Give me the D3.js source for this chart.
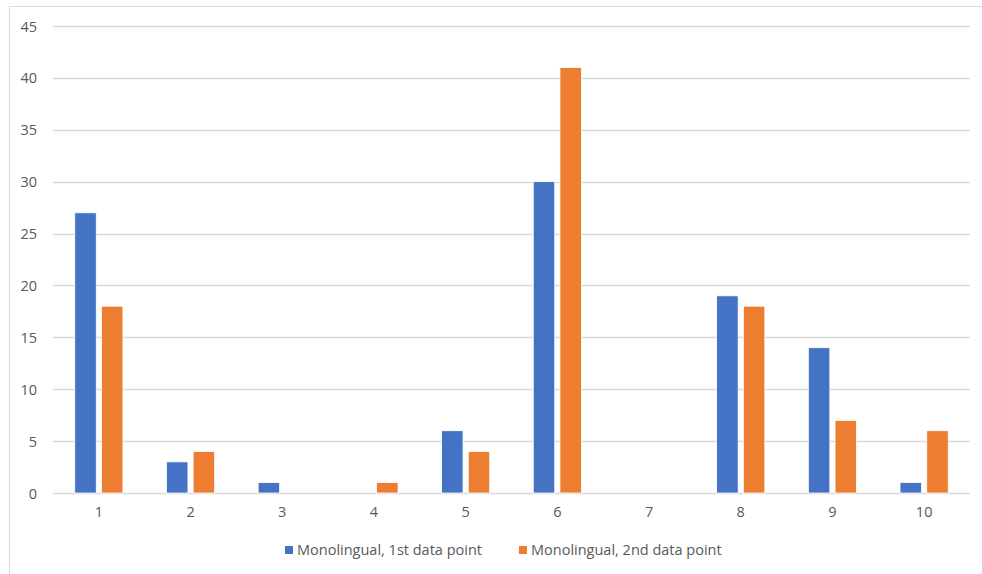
<!DOCTYPE html>
<html>
<head>
<meta charset="utf-8">
<script src="https://cdn.jsdelivr.net/npm/d3@7"></script>
<style>
  html, body { margin: 0; padding: 0; background: #fff; }
  svg { display: block; }
  text { font-family: "Open Sans", "Noto Sans", sans-serif; }
</style>
</head>
<body>
<svg id="chart" width="982" height="574"></svg>
<script>
const categories = ["1", "2", "3", "4", "5", "6", "7", "8", "9", "10"];
const seriesNames = ["Monolingual, 1st data point", "Monolingual, 2nd data point"];
const firstPoint  = [27, 3, 1, 0, 6, 30, 0, 19, 14, 1];
const secondPoint = [18, 4, 0, 1, 4, 41, 0, 18, 7, 6];
const yTicks = [0, 5, 10, 15, 20, 25, 30, 35, 40, 45];
const colors = ["#4472C4", "#ED7D31"];

const svg = d3.select("#chart");
const W = 982, H = 574;

// chart area frame
svg.append("path")
  .attr("d", `M9.5,${H} V6.5 H${W}`)
  .attr("fill", "none")
  .attr("stroke", "#d9d9d9")
  .attr("stroke-width", 1);

const plot = { left: 53, right: 970, top: 26, bottom: 493 };

const x = d3.scaleBand().domain(categories).range([plot.left, plot.right]).padding(0);
const y = d3.scaleLinear().domain([0, 45]).range([plot.bottom, plot.top]);

// gridlines
svg.append("g").selectAll("line").data(yTicks).join("line")
  .attr("x1", plot.left).attr("x2", plot.right)
  .attr("y1", d => Math.round(y(d)) + 0.5).attr("y2", d => Math.round(y(d)) + 0.5)
  .attr("stroke", "#d9d9d9").attr("stroke-width", 1.3);

// y axis labels
const yAxis = d3.axisLeft(y).tickValues(yTicks).tickSize(0).tickPadding(0);
const gy = svg.append("g").attr("transform", `translate(${plot.left - 16},0)`).call(yAxis);
gy.select(".domain").remove();
gy.selectAll("text").attr("fill", "#595959").attr("font-size", 14.5).attr("dy", "0.35em");

// x axis labels
const xAxis = d3.axisBottom(x).tickSize(0).tickPadding(0);
const gx = svg.append("g").attr("transform", `translate(0,${plot.bottom + 14})`).call(xAxis);
gx.select(".domain").remove();
gx.selectAll("text").attr("fill", "#595959").attr("font-size", 14.5).attr("dy", "0.71em");

// bars
const barW = 21.5, gap = 2.6;
const data = [firstPoint, secondPoint];
data.forEach((vals, si) => {
  svg.append("g").selectAll("rect").data(categories).join("rect")
    .attr("x", (c) => {
      const cx = x(c) + x.bandwidth() / 2;
      return si === 0 ? cx - gap - barW : cx + gap;
    })
    .attr("y", (c, i) => y(vals[i]))
    .attr("width", barW)
    .attr("height", (c, i) => y(0) - y(vals[i]))
    .attr("fill", colors[si])
    .attr("stroke", "#ffffff")
    .attr("stroke-width", 0.8);
});

// legend
const legendItems = [{ x: 285, name: seriesNames[0], color: colors[0] },
                     { x: 519, name: seriesNames[1], color: colors[1] }];
const lg = svg.append("g");
legendItems.forEach(it => {
  lg.append("rect").attr("x", it.x).attr("y", 546).attr("width", 8).attr("height", 8).attr("fill", it.color);
  lg.append("text").attr("x", it.x + 12).attr("y", 550).attr("dy", "0.35em")
    .attr("fill", "#595959").attr("font-size", 14.5).text(it.name);
});
</script>
</body>
</html>
